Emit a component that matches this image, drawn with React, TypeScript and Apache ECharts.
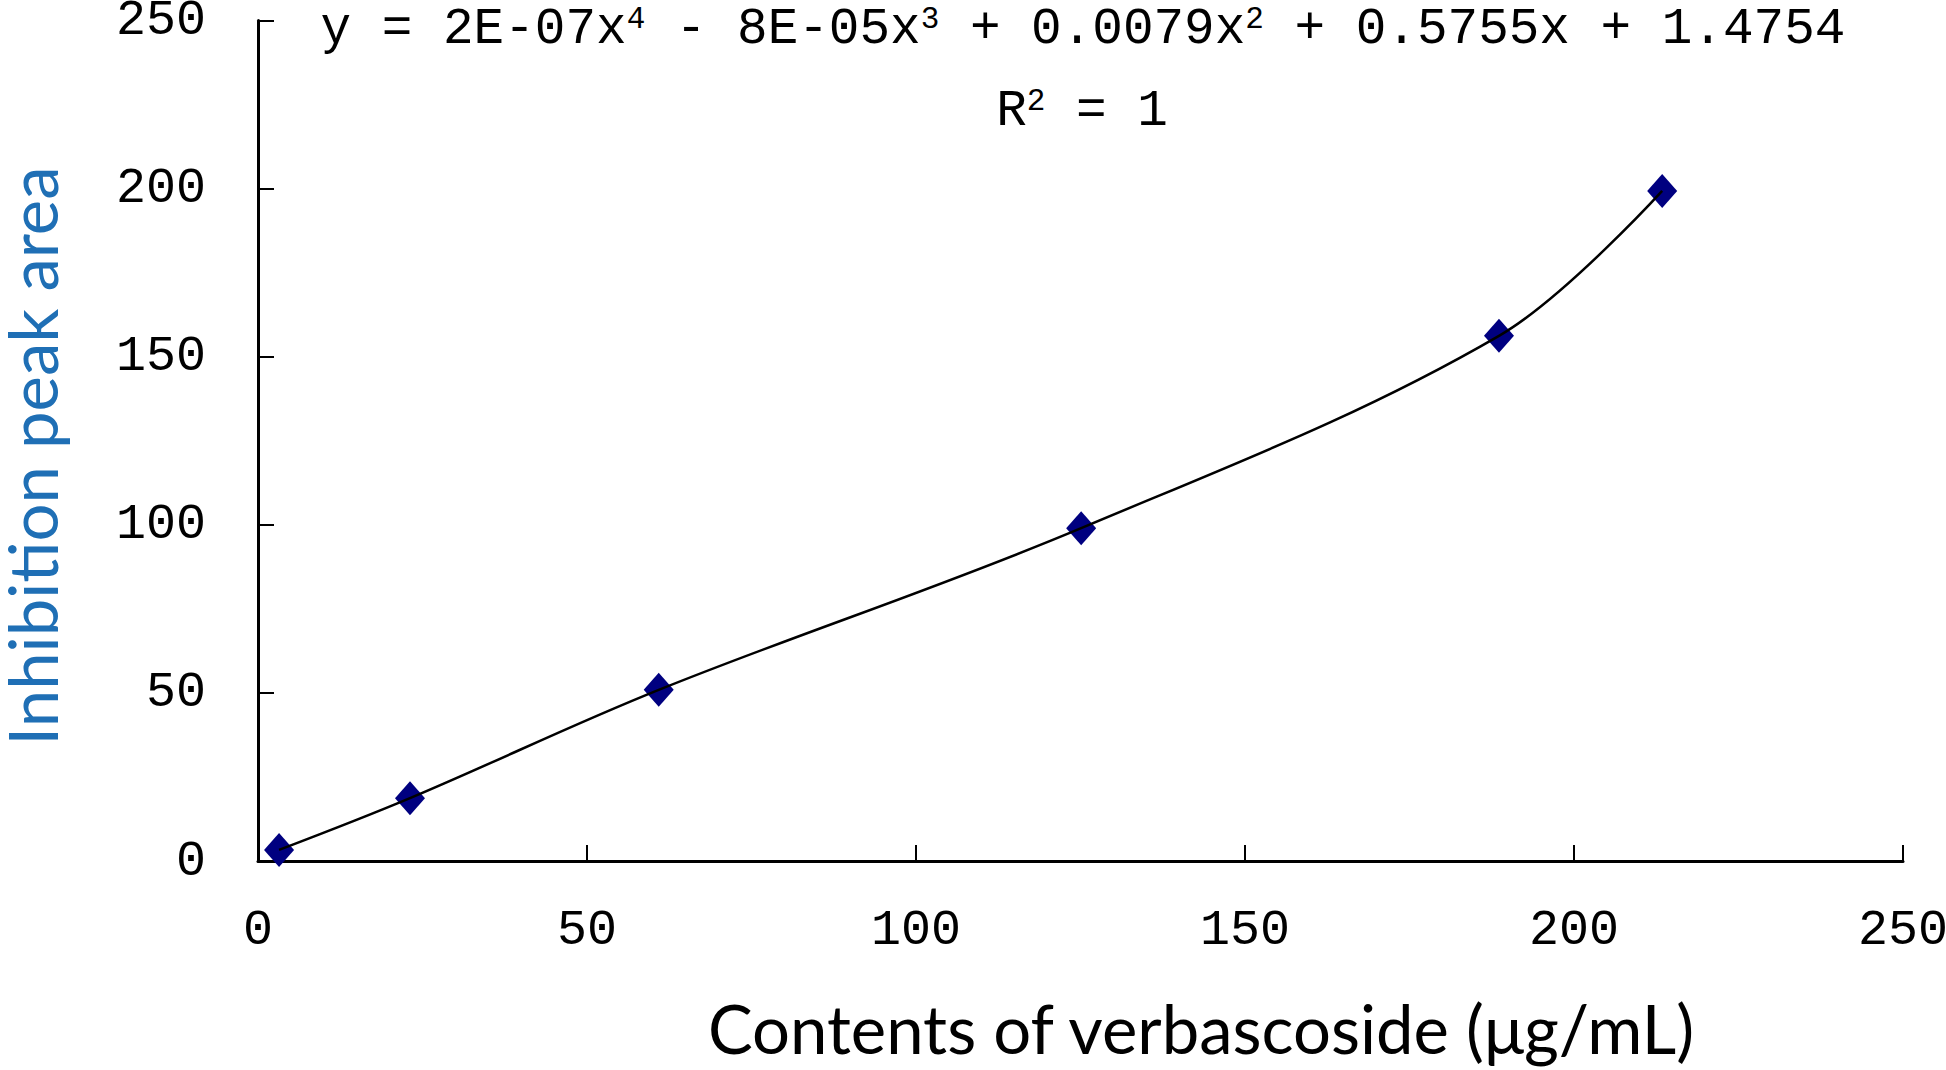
import React, { useEffect, useRef } from "react";
import * as echarts from "echarts";

const xValues = [3.2, 23.1, 60.9, 125.1, 188.6, 213.4];
const yValues = [3.3, 18.7, 50.9, 99.0, 156.2, 199.3];
const xTicks = [0, 50, 100, 150, 200, 250];
const yTicks = [0, 50, 100, 150, 200, 250];
const xTitle = "Contents of verbascoside (μg/mL)";
const yTitle = "Inhibition peak area";
const equationText = "y = 2E-07x{s|4} - 8E-05x{s|3} + 0.0079x{s|2} + 0.5755x + 1.4754";
const r2Text = "R{s|2} = 1";

const MONO = "'Liberation Mono', 'DejaVu Sans Mono', monospace";
const SANS = "Lato, 'Open Sans', sans-serif";

export default function App() {
  const ref = useRef<HTMLDivElement>(null);
  useEffect(() => {
    if (!ref.current) return;
    const chart = echarts.init(ref.current, null, { renderer: "svg" });
    const points = xValues.map((x, i) => [x, yValues[i]]);
    const axisLineStyle = { color: "#000", width: 3 };
    chart.setOption({
      animation: false,
      backgroundColor: "#fff",
      grid: { left: 258, right: 43, top: 20.5, bottom: 209, containLabel: false, outerBoundsMode: "none" },
      xAxis: {
        type: "value",
        min: xTicks[0],
        max: xTicks[xTicks.length - 1],
        interval: xTicks[1] - xTicks[0],
        axisLine: { show: true, onZero: false, lineStyle: axisLineStyle },
        axisTick: { show: true, inside: true, length: 16, lineStyle: { color: "#000", width: 2 } },
        axisLabel: { margin: 44, color: "#000", fontFamily: MONO, fontSize: 50 },
        splitLine: { show: false },
      },
      yAxis: {
        type: "value",
        min: yTicks[0],
        max: yTicks[yTicks.length - 1],
        interval: yTicks[1] - yTicks[0],
        axisLine: { show: true, onZero: false, lineStyle: axisLineStyle },
        axisTick: { show: true, inside: true, length: 16, lineStyle: { color: "#000", width: 2 } },
        axisLabel: { margin: 52, color: "#000", fontFamily: MONO, fontSize: 50 },
        splitLine: { show: false },
      },
      series: [
        {
          type: "scatter",
          data: points,
          symbol: "diamond",
          symbolSize: [30, 34],
          itemStyle: { color: "#000080", opacity: 1 },
          z: 2,
        },
        {
          type: "line",
          data: points,
          smooth: 0.35,
          showSymbol: false,
          lineStyle: { color: "#000", width: 2.5 },
          z: 3,
        },
      ],
      graphic: [
        {
          type: "text",
          x: 1083,
          y: 29,
          style: {
            text: equationText,
            fontFamily: MONO,
            fontSize: 51,
            fill: "#000",
            align: "center",
            verticalAlign: "middle",
            rich: {
              s: { fontFamily: MONO, fontSize: 31, verticalAlign: "top", fill: "#000" },
            },
          },
        },
        {
          type: "text",
          x: 1082,
          y: 111,
          style: {
            text: r2Text,
            fontFamily: MONO,
            fontSize: 51,
            fill: "#000",
            align: "center",
            verticalAlign: "middle",
            rich: {
              s: { fontFamily: MONO, fontSize: 31, verticalAlign: "top", fill: "#000" },
            },
          },
        },
        {
          type: "text",
          x: 1201,
          y: 1028,
          style: {
            text: xTitle,
            fontFamily: SANS,
            fontSize: 67,
            fill: "#000",
            align: "center",
            verticalAlign: "middle",
          },
        },
        {
          type: "text",
          x: 32,
          y: 456,
          rotation: Math.PI / 2,
          style: {
            text: yTitle,
            fontFamily: SANS,
            fontSize: 67,
            fill: "#1f6fb5",
            align: "center",
            verticalAlign: "middle",
          },
        },
      ],
    });
    return () => chart.dispose();
  }, []);
  return (
    <div
      ref={ref}
      style={{ position: "fixed", left: 0, top: 0, width: 1946, height: 1070, background: "#fff" }}
    />
  );
}
